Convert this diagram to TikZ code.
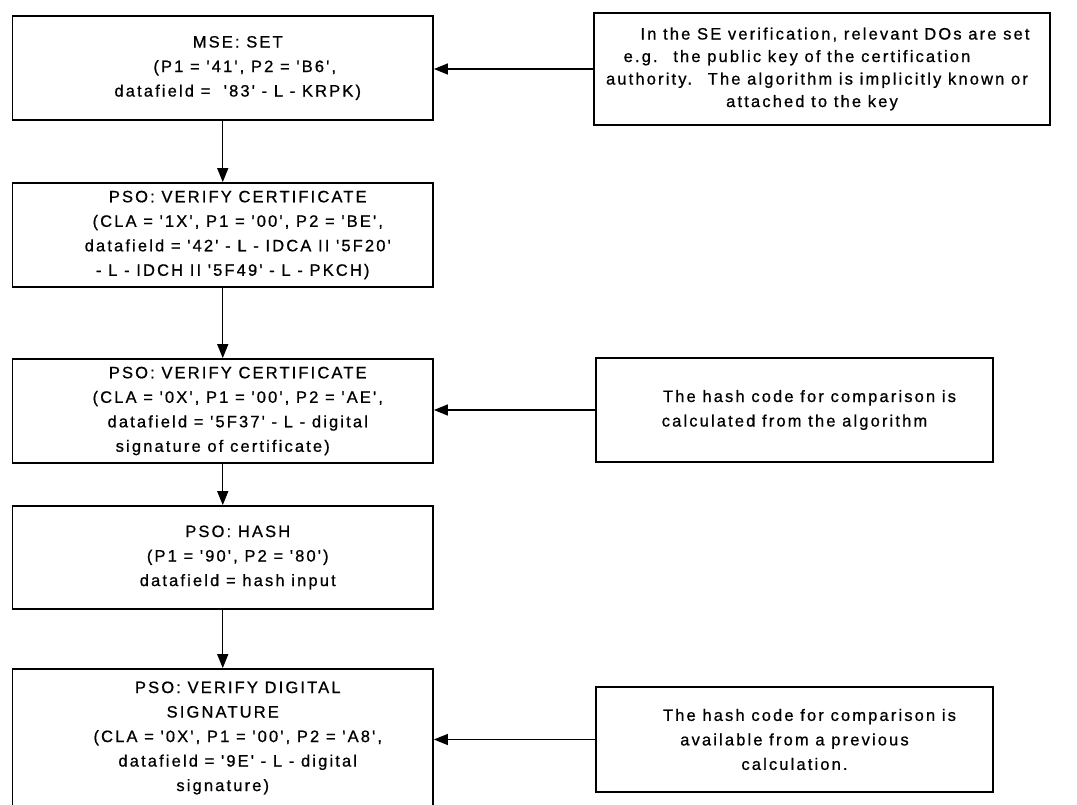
\documentclass[tikz,border=0pt]{standalone}
\usepackage{fontspec}
\setmainfont{Liberation Sans}[LetterSpace=13, Ligatures=TeXOff, FakeBold=0.8]
\usetikzlibrary{arrows.meta}
% invisible strut of given width, used to nudge a centred line sideways
\newcommand{\ind}[1]{\rule{#1pt}{0pt}}
\begin{document}
\begin{tikzpicture}[x=1pt,y=-1pt,
  box/.style={draw, line width=1.8pt, rectangle, inner sep=0pt, align=center,
    font=\fontsize{16.5}{24.5}\selectfont},
  note/.style={box, font=\fontsize{16.5}{22.5}\selectfont},
  flow/.style={line width=1.4pt, -{Triangle[length=14pt,width=11pt]}}]
\fill[white] (0,0) rectangle (1077,805);
\useasboundingbox (0,0) rectangle (1077,805);

% command sequence (left column)
\node[box, minimum width=420.5pt, minimum height=104pt] (mse) at (222.75,68)
  {\ind{30}MSE: SET\\
   \ind{44}(P1 = '41', P2 = 'B6',\\
   \ind{30}datafield = \ '83' - L - KRPK)};
\node[box, minimum width=420.5pt, minimum height=104pt] (vc1) at (222.75,235)
  {\ind{30}PSO: VERIFY CERTIFICATE\\
   \ind{30}(CLA = '1X', P1 = '00', P2 = 'BE',\\
   \ind{30}datafield = '42' - L - IDCA II '5F20'\\
   \ind{20}- L - IDCH II '5F49' - L - PKCH)};
\node[box, minimum width=420.5pt, minimum height=104pt] (vc2) at (222.75,411)
  {\ind{30}PSO: VERIFY CERTIFICATE\\
   \ind{30}(CLA = '0X', P1 = '00', P2 = 'AE',\\
   \ind{30}datafield = '5F37' - L - digital\\
   signature of certificate)};
\node[box, minimum width=420.5pt, minimum height=103pt] (hash) at (222.75,557.5)
  {\ind{30}PSO: HASH\\
   \ind{30}(P1 = '90', P2 = '80')\\
   \ind{30}datafield = hash input};
\node[box, minimum width=420.5pt, minimum height=138pt] (vds) at (222.75,738)
  {\ind{30}PSO: VERIFY DIGITAL\\
   SIGNATURE\\
   \ind{30}(CLA = '0X', P1 = '00', P2 = 'A8',\\
   \ind{30}datafield = '9E' - L - digital\\
   signature)};

% explanatory notes (right column)
\node[note, minimum width=456pt, minimum height=112pt] (n1) at (822,69)
  {\ind{26}In the SE verification, relevant DOs are set\\
   e.g. \ the public key of the certification\ind{50}\\
   authority. \ The algorithm is implicitly known or\ind{10}\\
   attached to the key\ind{20}};
\node[box, minimum width=397pt, minimum height=104pt] (n2) at (794.5,410)
  {\ind{30}The hash code for comparison is\\
   calculated from the algorithm};
\node[box, minimum width=397pt, minimum height=105pt] (n3) at (794.5,739.5)
  {\ind{30}The hash code for comparison is\\
   available from a previous\\
   calculation.};

% sequence arrows
\draw[flow] (mse) -- (vc1);
\draw[flow] (vc1) -- (vc2);
\draw[flow] (vc2) -- (hash);
\draw[flow] (hash) -- (vds);

% note arrows
\draw[flow] (n1.west) -- (n1.west -| mse.east);
\draw[flow] (n2.west) -- (n2.west -| vc2.east);
\draw[flow] (n3.west) -- (n3.west -| vds.east);
\end{tikzpicture}
\end{document}
